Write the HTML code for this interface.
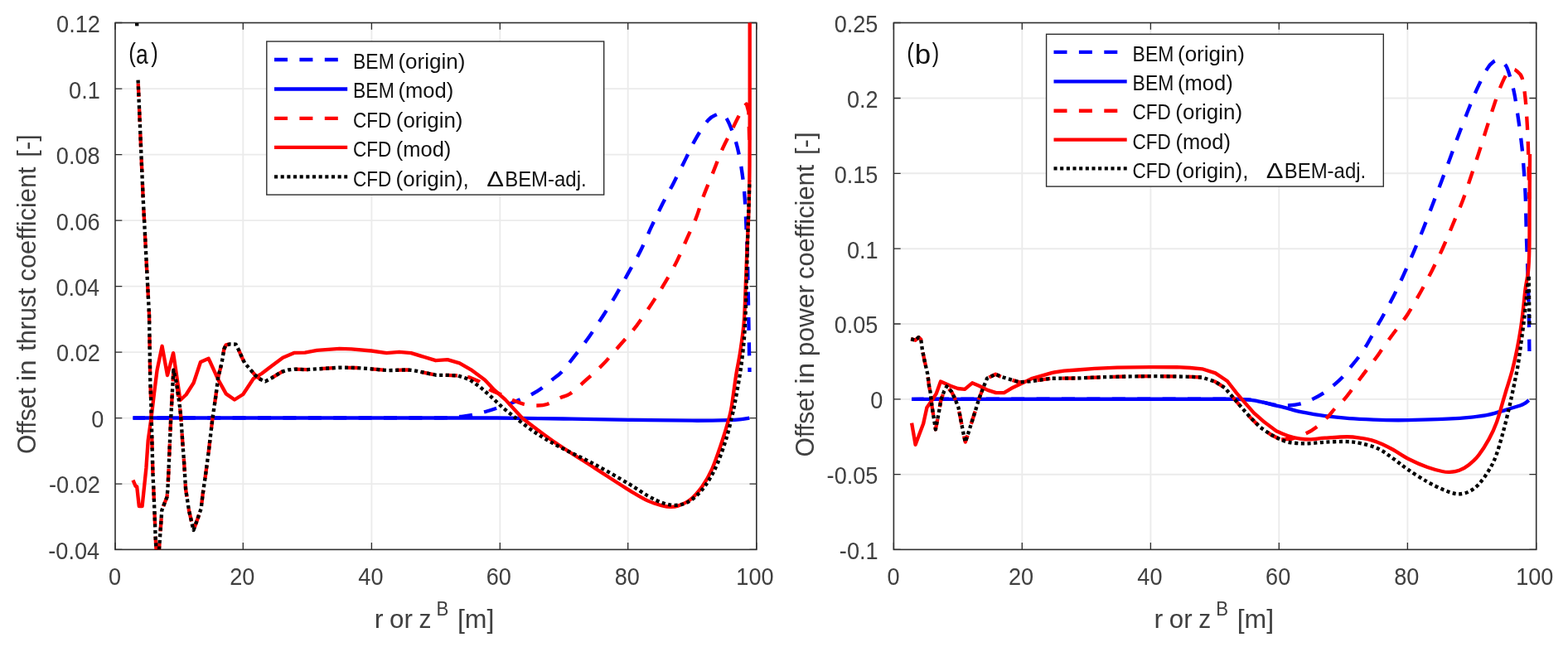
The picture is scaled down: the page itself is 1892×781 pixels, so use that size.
<!DOCTYPE html>
<html lang="en">
<head>
<meta charset="utf-8">
<title>Offset in thrust and power coefficient</title>
<style>
html,body{margin:0;padding:0;background:#fff;}
body{width:1892px;height:781px;overflow:hidden;}
svg{display:block;}
text{white-space:pre;}
</style>
</head>
<body>
<svg width="1892" height="781" viewBox="0 0 1892 781" font-family="'Liberation Sans', 'DejaVu Sans', sans-serif">
<rect width="1892" height="781" fill="#fff"/>
<defs>
<clipPath id="ca"><rect x="139" y="27.5" width="773.8" height="635.9"/></clipPath>
<clipPath id="cb"><rect x="1078.4" y="27.5" width="775.3" height="635.9"/></clipPath>
</defs>
<path d="M293.3 27.5V663.4M448.4 27.5V663.4M603.3 27.5V663.4M757.7 27.5V663.4M139 107.1H912.8M139 186.6H912.8M139 266.1H912.8M139 345.6H912.8M139 425.1H912.8M139 504.6H912.8M139 584.1H912.8" stroke="#ebebeb" stroke-width="1.9" fill="none"/>
<path d="M1233.3 27.5V663.4M1388.4 27.5V663.4M1543.3 27.5V663.4M1698.4 27.5V663.4M1078.4 118.5H1853.7M1078.4 209.3H1853.7M1078.4 300.2H1853.7M1078.4 391H1853.7M1078.4 481.9H1853.7M1078.4 572.7H1853.7" stroke="#ebebeb" stroke-width="1.9" fill="none"/>
<path d="M139 663.4v-8.3M139 27.5v8.3M293.3 663.4v-8.3M293.3 27.5v8.3M448.4 663.4v-8.3M448.4 27.5v8.3M603.3 663.4v-8.3M603.3 27.5v8.3M757.7 663.4v-8.3M757.7 27.5v8.3M912.8 663.4v-8.3M912.8 27.5v8.3M139 27.5h8.3M912.8 27.5h-8.3M139 107.1h8.3M912.8 107.1h-8.3M139 186.6h8.3M912.8 186.6h-8.3M139 266.1h8.3M912.8 266.1h-8.3M139 345.6h8.3M912.8 345.6h-8.3M139 425.1h8.3M912.8 425.1h-8.3M139 504.6h8.3M912.8 504.6h-8.3M139 584.1h8.3M912.8 584.1h-8.3M139 663.4h8.3M912.8 663.4h-8.3" stroke="#2e2e2e" stroke-width="1.3" fill="none"/>
<rect x="139" y="27.5" width="773.8" height="635.9" stroke="#2e2e2e" stroke-width="1.6" fill="none"/>
<path d="M1078.4 663.4v-8.3M1078.4 27.5v8.3M1233.3 663.4v-8.3M1233.3 27.5v8.3M1388.4 663.4v-8.3M1388.4 27.5v8.3M1543.3 663.4v-8.3M1543.3 27.5v8.3M1698.4 663.4v-8.3M1698.4 27.5v8.3M1853.7 663.4v-8.3M1853.7 27.5v8.3M1078.4 27.5h8.3M1853.7 27.5h-8.3M1078.4 118.5h8.3M1853.7 118.5h-8.3M1078.4 209.3h8.3M1853.7 209.3h-8.3M1078.4 300.2h8.3M1853.7 300.2h-8.3M1078.4 391h8.3M1853.7 391h-8.3M1078.4 481.9h8.3M1853.7 481.9h-8.3M1078.4 572.7h8.3M1853.7 572.7h-8.3M1078.4 663.4h8.3M1853.7 663.4h-8.3" stroke="#2e2e2e" stroke-width="1.3" fill="none"/>
<rect x="1078.4" y="27.5" width="775.3" height="635.9" stroke="#2e2e2e" stroke-width="1.6" fill="none"/>
<g clip-path="url(#ca)" fill="none" stroke-width="4.35" stroke-linejoin="round">
<path d="M160.5 504.5 L520 504.5 C523.3 504.5 534.2 504.6 540 504.3 C545.8 504.1 550 503.6 555 503 C560 502.4 564.9 502 570 501 C575.1 500 581 498.3 585.7 497 C590.5 495.7 593.5 494.7 598.5 493 C603.5 491.3 611.2 488.8 616 487 C620.8 485.2 622.7 484.3 627 482.5 C631.3 480.7 637.1 478.4 641.7 476 C646.3 473.6 650.4 471 654.5 468 C658.6 465 662.6 461.4 666.5 458.2 C670.4 455 673.6 453.5 678 448.8 C682.4 444.1 687.5 437.2 693 430.2 C698.5 423.2 704.8 415 710.7 406.7 C716.6 398.4 722.9 388.5 728.3 380.2 C733.7 371.9 738.1 365 743 356.6 C747.9 348.2 752.9 338.9 757.8 330.1 C762.7 321.3 767.8 312.9 772.5 303.6 C777.2 294.3 781.5 283.4 785.8 274.2 C790.1 265 793.8 257.3 798.3 248.3 C802.8 239.3 808.1 230 813 220.4 C817.9 210.8 823.4 199.8 827.8 190.9 C832.2 182.1 835.2 174.9 839.6 167.3 C844 159.7 850.1 150 854.3 145.2 C858.5 140.4 861.9 139.7 864.6 138.4 C867.3 137.1 868.3 136.2 870.5 137.3 C872.7 138.4 875.2 140.2 877.9 145.2 C880.6 150.2 884.2 159.7 886.7 167.3 C889.2 174.9 890.9 182.1 892.6 190.9 C894.3 199.8 896 212.1 897 220.4 C898 228.8 898.2 232.6 898.8 241 C899.3 249.4 899.8 258.1 900.3 271 C900.8 283.9 901.6 297.6 902.1 318.3 C902.6 339 903.1 373.2 903.5 395 C903.9 416.8 904.3 440 904.5 449" stroke="#00f" stroke-dasharray="16 14.4" stroke-dashoffset="1.5"/>
<path d="M160.5 504.5 L600 504.5 C613.3 504.7 653.5 505.1 680 505.5 C706.5 505.9 733.1 506.4 759 506.8 C784.9 507.2 815.4 507.6 835.5 507.7 C855.6 507.8 869.9 507.4 879.7 507.1 C889.5 506.9 890.3 506.6 894.4 506.2 C898.5 505.8 902.6 504.9 904.3 504.6" stroke="#00f"/>
<path d="M164.9 20 L165.2 29 L166.5 95 L172.7 240 L180 380 L180.6 416 L181.2 457 L181.9 477 L182.2 483 L182.8 508 L183.5 536.6 L184.4 570 L185.3 590.6 L186.4 616 L187.6 648 L188.3 660 L190.2 690 L192 663 L194 635 L195.3 616 L197.9 609 L201.5 600 L202.4 590.6 L203.6 565 L204.9 534 L206.2 504.6 L208.1 470 L209.4 446.6 L213.2 463 L215.2 478.6 L217.1 491.8 L218.4 504.6 L220.3 534 L222.2 559.6 L224.1 590.6 L228 616.2 L233.5 640 L238.9 625 L242.7 613.7 L244.6 597 L247.8 575 L251.7 545.6 L256.2 507 L260.6 476.4 L263.2 455.6 L267.7 437.6 L270.3 421.5 L272.6 416.4 L278 415.3 L284.6 415.6 L287.7 421.8 L292.2 432 L295.4 438.5 L300 443.6 L308 453 L314.4 458 L320.2 460.4 L327.2 456.6 L340 448.8 L347.7 446.5 L355.4 445.6 L370 446.2 L384 445.3 L409.6 443.7 L430.4 444 L448 445.3 L468.8 447.2 L491.3 446.4 L499.3 447.2 L526.5 452.8 L537.7 452.8 L552 453.3" stroke="#f00" stroke-dasharray="16 14.4" stroke-dashoffset="10.3"/>
<path d="M552 453.3 L566.5 455.4 L577.7 460.2 L592.1 471 C594.2 471.9 600.4 474.3 604.9 476.3 C609.4 478.3 614.8 481.3 619.3 483.2 C623.8 485.1 627.3 486.8 632.1 487.8 C636.9 488.9 643.4 489.5 648 489.5 C652.6 489.5 655.2 489.6 660 488 C664.8 486.4 671.8 482.2 676.5 480 C681.2 477.8 683.1 478.6 688.3 475 C693.5 471.4 701 464.2 707.7 458.2 C714.4 452.2 721.4 446.1 728.3 439 C735.2 431.9 742.4 423.1 749 415.5 C755.6 407.9 761.6 401.8 768 393.4 C774.4 385 781.5 374 787.2 365.4 C792.9 356.8 797.1 350.2 802 341.9 C806.9 333.6 812.3 324.2 816.7 315.4 C821.1 306.6 824.6 297.7 828.5 288.9 C832.4 280.1 836.9 270.9 840.2 262.4 C843.5 253.9 845.1 247 848.4 238 C851.7 229 856.3 218.4 860.2 208.6 C864.1 198.8 868.3 187.4 872 179.1 C875.7 170.8 879.1 164.9 882.3 158.5 C885.5 152.1 888.6 145.6 891.1 140.8 C893.6 136.1 895.4 132.6 897 130 C898.6 127.5 900.2 126.2 900.8 125.5 L903.3 135 L904.5 180" stroke="#f00" stroke-dasharray="16 14.4" stroke-dashoffset="-12.3"/>
<path d="M160.5 579.7 L163.6 586.8 L165.2 587.4 L167.8 611 L171.6 611 L176.4 565 L178.7 531.5 L182.5 504.6 L186 475 L189.6 446.6 L195.6 417.8 L202 453 L209.1 426.1 L217.5 483 L224.5 476.5 L233.7 462 L242 437 L251.7 432.8 L263.2 458.1 L272.8 475.4 L283 482.5 L293.3 476 L306 456.8 L315.7 451 L328.5 441.2 L341.3 431.7 L355.4 425.8 L368 425.6 L382.4 422.9 L409.6 420.8 L424 421.3 L448 423.5 L466.4 426.1 L481.7 424.8 L496 426.1 L525.7 435.2 L540 434.1 L554.5 438.4 L569.7 447.2 L584.9 458.4 L595.3 469.6 L609.7 482.4 L630.5 505 C636.7 509.6 653.2 522.7 667.7 532.7 C682.2 542.7 702.6 555.3 717.8 565.1 C733 574.9 748.2 585 759 591.6 C769.8 598.2 775.6 601.7 782.5 604.9 C789.4 608.1 795.8 609.5 800.2 610.7 C804.6 611.9 806.1 611.9 809 611.9 C811.9 611.9 813.9 612.1 817.8 610.7 C821.7 609.3 827.7 607.3 832.6 603.4 C837.5 599.5 842.9 593.3 847.3 587.2 C851.7 581.1 855.1 575.4 859 566.6 C862.9 557.8 867.3 544.5 870.8 534.2 C874.2 523.9 877.7 512.2 879.7 504.8 C881.7 497.4 881.5 498.5 882.9 490 C884.3 481.5 886.3 464.9 888 454 C889.7 443.1 891.6 435.3 893.2 424.6 C894.8 413.9 896.5 402.8 897.6 390 C898.7 377.2 899 362.8 899.6 347.8 C900.2 332.8 900.8 316.3 901.5 300 C902.2 283.7 903.1 266.7 903.6 250 C904.1 233.3 904.3 225 904.5 200 C904.7 175 904.7 130 904.7 100 C904.7 70 904.7 33.3 904.7 20" stroke="#f00"/>
<path d="M164.9 20 L165.2 29 L166.5 95 L172.7 240 L180 380 L180.6 416 L181.2 457 L181.9 477 L182.2 483 L182.8 508 L183.5 536.6 L184.4 570 L185.3 590.6 L186.4 616 L187.6 648 L188.3 660 L190.2 690 L192 663 L194 635 L195.3 616 L197.9 609 L201.5 600 L202.4 590.6 L203.6 565 L204.9 534 L206.2 504.6 L208.1 470 L209.4 446.6 L213.2 463 L215.2 478.6 L217.1 491.8 L218.4 504.6 L220.3 534 L222.2 559.6 L224.1 590.6 L228 616.2 L233.5 640 L238.9 625 L242.7 613.7 L244.6 597 L247.8 575 L251.7 545.6 L256.2 507 L260.6 476.4 L263.2 455.6 L267.7 437.6 L270.3 421.5 L272.6 416.4 L278 415.3 L284.6 415.6 L287.7 421.8 L292.2 432 L295.4 438.5 L300 443.6 L308 453 L314.4 458 L320.2 460.4 L327.2 456.6 L340 448.8 L347.7 446.5 L355.4 445.6 L370 446.2 L384 445.3 L409.6 443.7 L430.4 444 L448 445.3 L468.8 447.2 L491.3 446.4 L499.3 447.2 L526.5 452.8 L537.7 452.8 L552 453.3 L566.5 458.1 L579.3 467.2 L592.1 478.4 L606.5 492 L620.6 503.3 C624.5 506.2 635.4 515.1 644.2 521 C653 526.9 661.3 532 673.6 538.6 C685.9 545.2 703.6 553.1 717.8 560.7 C732 568.3 748.2 577.8 759 584.2 C769.8 590.6 775.6 595.2 782.5 599 C789.4 602.8 794.8 605.4 800.2 607.2 C805.6 609 810 610 814.9 609.9 C819.8 609.8 824.7 608.9 829.6 606.3 C834.5 603.7 839.9 599.1 844.3 594.5 C848.7 589.9 852.4 584.5 856.1 578.4 C859.8 572.3 863 566.1 866.4 557.8 C869.8 549.4 873.8 538.1 876.7 528.3 C879.7 518.5 882.4 505.9 884.1 498.9 C885.8 491.8 885.4 493.5 886.8 486 C888.2 478.5 890.9 464.2 892.5 454 C894.1 443.8 895.3 434.6 896.4 424.6 C897.5 414.6 898.2 406.6 898.9 393.8 C899.6 381 900.1 365.2 900.6 347.8 C901.1 330.4 901.6 305.7 902.1 289.6 C902.6 273.5 903 262.9 903.4 251 C903.8 239.2 904.2 223.9 904.4 218.5" stroke="#000" stroke-dasharray="4.1 3.56" stroke-dashoffset="0"/>
</g>
<g clip-path="url(#cb)" fill="none" stroke-width="4.35" stroke-linejoin="round">
<path d="M1100.1 481.8 L1492 481.7 C1494.7 481.9 1502.7 482 1508 482.7 C1513.3 483.4 1518.7 484.6 1524 485.6 C1529.3 486.7 1534.9 488.4 1540 489 C1545.1 489.6 1549.8 489.8 1554.7 489.5 C1559.6 489.2 1564.5 488.7 1569.4 487.4 C1574.3 486.1 1579.5 483.8 1584.2 481.6 C1588.9 479.4 1593 477.1 1597.4 474.2 C1601.8 471.2 1606.7 467.3 1610.6 463.9 C1614.5 460.5 1617.9 457.3 1621 454 C1624.1 450.7 1625.8 448 1629 444 C1632.2 440 1636.8 434.5 1640.1 430 C1643.4 425.5 1646.5 420.7 1648.9 416.8 C1651.4 412.9 1652.3 410.9 1654.8 406.5 C1657.2 402.1 1661.6 394 1663.6 390.3 C1665.6 386.6 1664.2 389.7 1667 384.5 C1669.8 379.3 1676.2 367.9 1680.7 359.1 C1685.2 350.3 1689.5 340.8 1693.7 331.6 C1697.9 322.4 1702 313 1705.9 303.8 C1709.8 294.6 1713.5 285.8 1717.3 276.4 C1721 267 1724.7 257.1 1728.4 247.5 C1732.1 237.9 1735.7 228.4 1739.3 218.9 C1742.9 209.4 1746.6 199.4 1749.9 190.5 C1753.2 181.6 1755.7 174.3 1759 165.4 C1762.3 156.5 1766.2 146.7 1769.9 137.3 C1773.6 127.9 1777.4 118.1 1781.4 109.1 C1785.5 100.1 1790.8 89.2 1794.2 83.5 C1797.6 77.8 1799.3 76.4 1801.9 74.6 C1804.5 72.8 1807 71.9 1809.6 72.8 C1812.2 73.7 1815.2 76.2 1817.3 79.7 C1819.4 83.2 1820.7 88 1822.4 93.7 C1824.1 99.5 1825.8 105.2 1827.5 114.2 C1829.2 123.2 1831.1 136.8 1832.6 147.5 C1834.1 158.2 1835.4 168 1836.5 178.2 C1837.6 188.4 1838.3 198.6 1839 208.9 C1839.7 219.2 1840.3 226.5 1840.8 240 C1841.3 253.5 1841.5 275 1842 290 C1842.5 305 1843.1 316.7 1843.5 330 C1843.9 343.3 1844.3 354.3 1844.6 370 C1844.9 385.7 1845.3 415 1845.4 424" stroke="#00f" stroke-dasharray="16 14.4" stroke-dashoffset="1.5"/>
<path d="M1100.1 481.8 L1492 481.7 C1494.7 481.9 1502.7 482 1508 482.7 C1513.3 483.4 1518.7 484.5 1524 485.6 C1529.3 486.8 1534.7 488.3 1540 489.6 C1545.3 490.9 1551.1 492.3 1556 493.6 C1560.9 494.9 1562.2 495.8 1569.4 497.2 C1576.6 498.6 1589.1 500.9 1598.9 502.2 C1608.7 503.5 1618.5 504.4 1628.3 505.1 C1638.1 505.8 1648 506.2 1657.8 506.6 C1667.6 507 1677.4 507.2 1687.2 507.2 C1697 507.2 1706.8 506.9 1716.6 506.6 C1726.4 506.4 1736.3 506.2 1746.1 505.7 C1755.9 505.2 1767.2 504.4 1775.5 503.6 C1783.8 502.8 1789.2 502.2 1796.1 500.7 C1803 499.2 1810.3 496.7 1816.7 494.8 C1823.1 492.9 1830.5 490.9 1834.4 489.5 C1838.3 488.1 1838.6 487.7 1840.3 486.6 C1842 485.5 1844 483.6 1844.7 483" stroke="#00f"/>
<path d="M1099.2 409.2 L1104.6 410.7 L1108.4 407.2 L1111.2 409.7 L1112.9 422.3 L1115.5 435.1 L1119.3 451.7 L1121.2 467.1 L1122.5 472.8 L1124.4 489.5 L1126.4 502.3 L1128.9 518.3 L1131.5 504.8 L1133.4 494.6 L1135.3 483.1 L1139.2 472.2 L1142.4 466.4 L1148.1 472.8 L1152 480.5 L1156.5 492 L1159.7 508.7 L1162.9 525.3 L1164.8 533.6 L1168 524 L1171.2 513.8 L1176.9 495.9 L1181.4 481.1 L1186.5 467.7 L1191 456.8 L1201.3 451.7 L1208.3 454.9 L1230.1 461.3 L1242.9 460.4 L1268.5 456.8 L1300 456.5 L1332 455.2 L1364 454.4 L1388 454.1 L1420 454.4 L1437.7 454.9 L1450.5 455.5 L1466.5 460.8 L1477.7 468 L1487.3 479.2 L1496.9 490.4 L1508 503.2 L1520.9 516 L1533.7 524.8 L1544.9 530.5" stroke="#f00" stroke-dasharray="16 14.4" stroke-dashoffset="0"/>
<path d="M1544.9 530.5 C1546.1 530.5 1549.5 530.4 1552 530.2 C1554.5 530 1555.9 530.5 1560 529.3 C1564.1 528.1 1572 525.1 1576.8 522.8 C1581.6 520.5 1584.4 518.6 1588.6 515.4 C1592.8 512.2 1598.1 507.3 1601.8 503.6 C1605.5 499.9 1607.2 497 1610.6 493.3 C1614 489.6 1618.7 485.8 1622.4 481.6 C1626.1 477.4 1629.5 472.5 1632.7 468.3 C1635.9 464.1 1638.6 460.4 1641.6 456.5 C1644.5 452.6 1647.2 449 1650.4 444.8 C1653.6 440.6 1657.8 435.4 1660.7 431.5 C1663.6 427.6 1665 425.4 1668 421.2 C1671 417 1675.2 410.9 1678.4 406.5 C1681.6 402.1 1683.8 399.2 1687.2 394.7 C1690.6 390.1 1694.1 386.2 1698.6 379.2 C1703.1 372.2 1709.1 361.5 1714 352.7 C1718.9 343.9 1723.5 335.3 1728 326.4 C1732.5 317.4 1736.9 308.2 1741.1 299 C1745.3 289.8 1749.1 280.4 1753 271 C1756.9 261.6 1761.1 252.2 1764.7 242.7 C1768.3 233.2 1771.3 223.8 1774.5 214.2 C1777.7 204.6 1781 194.8 1784.1 185.4 C1787.2 176 1789.9 167 1792.9 157.7 C1795.9 148.4 1798.9 138.5 1801.9 129.6 C1804.9 120.6 1808.1 110.8 1810.9 104 C1813.7 97.2 1816.2 91.9 1818.5 88.6 C1820.8 85.3 1823 84.5 1824.9 84 C1826.8 83.5 1828.1 84 1830 85.6 C1831.9 87.2 1834.8 88.5 1836.5 93.7 C1838.2 98.9 1839.2 107 1840.3 116.8 C1841.4 126.6 1842.3 141.5 1842.9 152.6 C1843.5 163.7 1843.7 168.7 1844.1 183.3 C1844.5 197.9 1845.1 230.6 1845.3 240" stroke="#f00" stroke-dasharray="16 14.4" stroke-dashoffset="-1.5"/>
<path d="M1100.1 510.6 L1104.6 536.8 L1114.2 511.2 L1118.4 492 L1123.8 484.3 L1129.6 475.4 L1135 460.6 L1146.8 465.8 L1155.8 469 L1164.1 469.9 L1173.1 462.3 L1181.4 465.8 L1191.7 470.9 L1201.9 474.1 L1211.5 474.1 L1222.4 467.7 L1233.3 462.6 L1245.5 456.8 L1269.8 449.8 L1283.9 447.6 L1300 446.5 L1320.8 444.8 L1348 443.7 L1388 443.2 L1420 443.2 L1436 444 L1450.5 445.3 L1466.5 450.4 L1480.9 460 L1492 474.4 L1501.7 485.6 L1512.9 498.4 L1525.7 509.6 L1540 520.3 C1542.4 521.3 1549.7 524.8 1554.5 526.4 C1559.3 528 1564.5 528.9 1569 529.6 C1573.5 530.3 1576.7 530.5 1581.7 530.4 C1586.7 530.2 1591.6 529.2 1598.9 528.7 C1606.2 528.2 1618.1 527.2 1625.4 527.2 C1632.8 527.2 1638.1 528.2 1643 528.9 C1647.9 529.6 1650.8 530.1 1655 531.3 C1659.2 532.5 1663.6 534.2 1668 536.2 C1672.4 538.2 1676.1 540.1 1681.3 543 C1686.5 545.9 1692.1 550.2 1699 553.7 C1705.9 557.2 1715.6 561.5 1722.5 564 C1729.4 566.5 1735.8 568 1740.2 569 C1744.6 570 1745.6 570.1 1749 569.9 C1752.4 569.7 1756.9 569.3 1760.8 567.8 C1764.7 566.3 1768.7 564.1 1772.6 561 C1776.5 557.9 1780.3 554.4 1784.3 549.3 C1788.3 544.1 1793 536.7 1796.6 530.1 C1800.2 523.5 1803 517.8 1806 509.5 C1809 501.2 1812.8 486.7 1814.8 480.1 C1816.8 473.5 1816.1 475.6 1817.8 470 C1819.5 464.4 1822.7 454.9 1824.8 446.8 C1826.9 438.7 1828.9 429.7 1830.6 421.2 C1832.3 412.7 1833.8 404.1 1835.1 395.6 C1836.4 387.1 1837.3 378.1 1838.3 370 C1839.2 361.9 1839.8 353.9 1840.8 346.8 C1841.8 339.7 1843.2 335.1 1844 327.6 C1844.8 320.1 1845 314.9 1845.3 302 C1845.6 289.1 1845.5 269.3 1845.6 250 C1845.7 230.7 1845.9 196.7 1846 186" stroke="#f00"/>
<path d="M1099.2 409.2 L1104.6 410.7 L1108.4 407.2 L1111.2 409.7 L1112.9 422.3 L1115.5 435.1 L1119.3 451.7 L1121.2 467.1 L1122.5 472.8 L1124.4 489.5 L1126.4 502.3 L1128.9 518.3 L1131.5 504.8 L1133.4 494.6 L1135.3 483.1 L1139.2 472.2 L1142.4 466.4 L1148.1 472.8 L1152 480.5 L1156.5 492 L1159.7 508.7 L1162.9 525.3 L1164.8 533.6 L1168 524 L1171.2 513.8 L1176.9 495.9 L1181.4 481.1 L1186.5 467.7 L1191 456.8 L1201.3 451.7 L1208.3 454.9 L1230.1 461.3 L1242.9 460.4 L1268.5 456.8 L1300 456.5 L1332 455.2 L1364 454.4 L1388 454.1 L1420 454.4 L1437.7 454.9 L1450.5 455.5 L1466.5 460.8 L1477.7 468 L1487.3 479.2 L1496.9 490.4 L1508 503.2 L1520.9 516 L1533.7 524.8 L1544.9 530.5 C1546.8 531.1 1550.9 533.2 1556 534 C1561.1 534.8 1568.1 535.4 1575.3 535.4 C1582.5 535.4 1590.6 534.1 1598.9 533.7 C1607.2 533.3 1618.1 532.8 1625.4 533.1 C1632.8 533.4 1636.6 533.9 1643 535.4 C1649.4 536.9 1657.2 538.8 1663.6 541.9 C1670 545 1675.4 549.5 1681.3 553.7 C1687.2 557.9 1692.1 562.2 1699 566.9 C1705.9 571.6 1715.6 577.8 1722.5 581.7 C1729.4 585.6 1735.3 588.3 1740.2 590.5 C1745.1 592.7 1748.6 593.9 1752 594.9 C1755.4 595.9 1757.4 596.6 1760.8 596.4 C1764.2 596.1 1768.7 595.4 1772.6 593.4 C1776.5 591.4 1780.4 588.8 1784.3 584.6 C1788.2 580.4 1792.7 574 1796.1 568.4 C1799.5 562.8 1802 558.6 1804.9 550.7 C1807.9 542.9 1811.1 531.1 1813.8 521.3 C1816.5 511.5 1819 500.7 1821.1 491.9 C1823.1 483.1 1824.7 475.1 1826.1 468.6 C1827.5 462.2 1828.3 458.1 1829.3 453.2 C1830.3 448.3 1831.1 444.4 1831.9 439.1 C1832.8 433.8 1833.6 427.4 1834.4 421.2 C1835.2 415 1836.2 407.8 1837 402 C1837.8 396.2 1838.3 391.9 1838.9 386.6 C1839.5 381.3 1840.2 375.8 1840.8 370 C1841.4 364.2 1841.9 358.2 1842.6 352 C1843.2 345.8 1844.3 335.8 1844.7 332.5 L1845.5 393" stroke="#000" stroke-dasharray="4.1 3.56" stroke-dashoffset="0"/>
</g>
<rect x="146" y="31.5" width="60" height="62.5" fill="#fff"/>
<rect x="321.8" y="50" width="406.9" height="185.1" fill="#fff" stroke="#2e2e2e" stroke-width="1.4"/>
<path d="M331 72H419.2" stroke="#00f" stroke-width="4.35" stroke-dasharray="16 14.4" fill="none"/>
<path d="M331 107.5H419.2" stroke="#00f" stroke-width="4.35" fill="none"/>
<path d="M331 142.9H419.2" stroke="#f00" stroke-width="4.35" stroke-dasharray="16 14.4" fill="none"/>
<path d="M331 177.9H419.2" stroke="#f00" stroke-width="4.35" fill="none"/>
<path d="M331 213.3H419.2" stroke="#000" stroke-width="4.35" stroke-dasharray="4.1 3.56" fill="none"/>
<rect x="1262.6" y="41.3" width="406.7" height="183.8" fill="#fff" stroke="#2e2e2e" stroke-width="1.4"/>
<path d="M1271.5 62.8H1359.7" stroke="#00f" stroke-width="4.35" stroke-dasharray="16 14.4" fill="none"/>
<path d="M1271.5 98.3H1359.7" stroke="#00f" stroke-width="4.35" fill="none"/>
<path d="M1271.5 133.7H1359.7" stroke="#f00" stroke-width="4.35" stroke-dasharray="16 14.4" fill="none"/>
<path d="M1271.5 168.6H1359.7" stroke="#f00" stroke-width="4.35" fill="none"/>
<path d="M1271.5 203.4H1359.7" stroke="#000" stroke-width="4.35" stroke-dasharray="4.1 3.56" fill="none"/>
<text transform="translate(68.10 39.05) scale(0.9519 1.0100)" font-size="28.5" fill="#404040">0.12</text>
<text transform="translate(83.09 118.54) scale(0.9519 1.0100)" font-size="28.5" fill="#404040">0.1</text>
<text transform="translate(67.86 198.02) scale(0.9519 1.0100)" font-size="28.5" fill="#404040">0.08</text>
<text transform="translate(67.86 277.51) scale(0.9519 1.0100)" font-size="28.5" fill="#404040">0.06</text>
<text transform="translate(67.38 357.00) scale(0.9519 1.0100)" font-size="28.5" fill="#404040">0.04</text>
<text transform="translate(68.10 436.48) scale(0.9519 1.0100)" font-size="28.5" fill="#404040">0.02</text>
<text transform="translate(110.35 515.97) scale(0.9519 1.0100)" font-size="28.5" fill="#404040">0</text>
<text transform="translate(59.06 595.46) scale(0.9519 1.0100)" font-size="28.5" fill="#404040">-0.02</text>
<text transform="translate(58.34 674.95) scale(0.9519 1.0100)" font-size="28.5" fill="#404040">-0.04</text>
<text transform="translate(1006.66 39.05) scale(0.9519 1.0100)" font-size="28.5" fill="#404040">0.25</text>
<text transform="translate(1021.89 129.89) scale(0.9519 1.0100)" font-size="28.5" fill="#404040">0.2</text>
<text transform="translate(1006.66 220.73) scale(0.9519 1.0100)" font-size="28.5" fill="#404040">0.15</text>
<text transform="translate(1021.89 311.58) scale(0.9519 1.0100)" font-size="28.5" fill="#404040">0.1</text>
<text transform="translate(1006.66 402.42) scale(0.9519 1.0100)" font-size="28.5" fill="#404040">0.05</text>
<text transform="translate(1050.15 493.26) scale(0.9519 1.0100)" font-size="28.5" fill="#404040">0</text>
<text transform="translate(997.62 584.10) scale(0.9519 1.0100)" font-size="28.5" fill="#404040">-0.05</text>
<text transform="translate(1012.85 674.95) scale(0.9519 1.0100)" font-size="28.5" fill="#404040">-0.1</text>
<text transform="translate(131.00 705.95) scale(0.9519 1.0100)" font-size="28.5" fill="#404040">0</text>
<text transform="translate(277.23 705.95) scale(0.9519 1.0100)" font-size="28.5" fill="#404040">20</text>
<text transform="translate(432.35 705.95) scale(0.9519 1.0100)" font-size="28.5" fill="#404040">40</text>
<text transform="translate(586.75 705.95) scale(0.9519 1.0100)" font-size="28.5" fill="#404040">60</text>
<text transform="translate(741.63 705.95) scale(0.9519 1.0100)" font-size="28.5" fill="#404040">80</text>
<text transform="translate(888.30 705.95) scale(0.9519 1.0100)" font-size="28.5" fill="#404040">100</text>
<text transform="translate(1070.40 705.95) scale(0.9519 1.0100)" font-size="28.5" fill="#404040">0</text>
<text transform="translate(1216.93 705.95) scale(0.9519 1.0100)" font-size="28.5" fill="#404040">20</text>
<text transform="translate(1372.35 705.95) scale(0.9519 1.0100)" font-size="28.5" fill="#404040">40</text>
<text transform="translate(1527.05 705.95) scale(0.9519 1.0100)" font-size="28.5" fill="#404040">60</text>
<text transform="translate(1682.23 705.95) scale(0.9519 1.0100)" font-size="28.5" fill="#404040">80</text>
<text transform="translate(1829.20 705.95) scale(0.9519 1.0100)" font-size="28.5" fill="#404040">100</text>
<text font-size="31" fill="#404040"><tspan x="451.71" y="758.10" textLength="10.79" lengthAdjust="spacingAndGlyphs">r</tspan> <tspan x="470.14" y="758.10" textLength="27.85" lengthAdjust="spacingAndGlyphs">or</tspan> <tspan x="505.49" y="758.10" textLength="14.95" lengthAdjust="spacingAndGlyphs">z</tspan> <tspan x="526.45" y="743.30" textLength="14.82" lengthAdjust="spacingAndGlyphs" font-size="24">B</tspan> <tspan x="551.97" y="758.10" textLength="44.52" lengthAdjust="spacingAndGlyphs">[m]</tspan></text>
<text font-size="31" fill="#404040"><tspan x="1392.41" y="758.10" textLength="10.79" lengthAdjust="spacingAndGlyphs">r</tspan> <tspan x="1410.84" y="758.10" textLength="27.85" lengthAdjust="spacingAndGlyphs">or</tspan> <tspan x="1446.19" y="758.10" textLength="14.95" lengthAdjust="spacingAndGlyphs">z</tspan> <tspan x="1467.15" y="743.30" textLength="14.82" lengthAdjust="spacingAndGlyphs" font-size="24">B</tspan> <tspan x="1492.67" y="758.10" textLength="44.52" lengthAdjust="spacingAndGlyphs">[m]</tspan></text>
<text transform="translate(42.60 0) rotate(-90)" font-size="31" fill="#404040"><tspan x="-547.96" y="0.00" textLength="79.79" lengthAdjust="spacingAndGlyphs">Offset</tspan> <tspan x="-460.36" y="0.00" textLength="26.07" lengthAdjust="spacingAndGlyphs">in</tspan> <tspan x="-423.69" y="0.00" textLength="76.27" lengthAdjust="spacingAndGlyphs">thrust</tspan> <tspan x="-339.44" y="0.00" textLength="138.11" lengthAdjust="spacingAndGlyphs">coefficient</tspan> <tspan x="-189.63" y="0.00" textLength="27.32" lengthAdjust="spacingAndGlyphs">[-]</tspan></text>
<text transform="translate(981.80 0) rotate(-90)" font-size="31" fill="#404040"><tspan x="-551.46" y="0.00" textLength="79.79" lengthAdjust="spacingAndGlyphs">Offset</tspan> <tspan x="-463.87" y="0.00" textLength="26.19" lengthAdjust="spacingAndGlyphs">in</tspan> <tspan x="-430.25" y="0.00" textLength="86.39" lengthAdjust="spacingAndGlyphs">power</tspan> <tspan x="-336.94" y="0.00" textLength="138.21" lengthAdjust="spacingAndGlyphs">coefficient</tspan> <tspan x="-187.05" y="0.00" textLength="27.56" lengthAdjust="spacingAndGlyphs">[-]</tspan></text>
<text font-size="30.5" fill="#111"><tspan x="155.20" y="74.30" textLength="8.66" lengthAdjust="spacingAndGlyphs">(</tspan><tspan x="163.98" y="76.90" textLength="14.72" lengthAdjust="spacingAndGlyphs" font-size="32.6">a</tspan><tspan x="182.29" y="74.30" textLength="8.52" lengthAdjust="spacingAndGlyphs">)</tspan></text>
<text font-size="30.5" fill="#111"><tspan x="1094.30" y="74.30" textLength="8.66" lengthAdjust="spacingAndGlyphs">(</tspan><tspan x="1103.86" y="77.00" textLength="19.43" lengthAdjust="spacingAndGlyphs" font-size="33.6">b</tspan><tspan x="1124.79" y="74.30" textLength="8.52" lengthAdjust="spacingAndGlyphs">)</tspan></text>
<text font-size="25" fill="#111"><tspan x="426.07" y="82.70" textLength="49.71" lengthAdjust="spacingAndGlyphs">BEM</tspan> <tspan x="480.44" y="82.70" textLength="80.97" lengthAdjust="spacingAndGlyphs">(origin)</tspan></text>
<text font-size="25" fill="#111"><tspan x="426.07" y="118.20" textLength="49.71" lengthAdjust="spacingAndGlyphs">BEM</tspan> <tspan x="480.47" y="118.20" textLength="66.71" lengthAdjust="spacingAndGlyphs">(mod)</tspan></text>
<text font-size="25" fill="#111"><tspan x="426.08" y="153.50" textLength="46.25" lengthAdjust="spacingAndGlyphs">CFD</tspan> <tspan x="477.84" y="153.50" textLength="80.66" lengthAdjust="spacingAndGlyphs">(origin)</tspan></text>
<text font-size="25" fill="#111"><tspan x="426.08" y="188.80" textLength="46.25" lengthAdjust="spacingAndGlyphs">CFD</tspan> <tspan x="477.87" y="188.80" textLength="66.50" lengthAdjust="spacingAndGlyphs">(mod)</tspan></text>
<text font-size="25" fill="#111"><tspan x="426.08" y="224.60" textLength="46.25" lengthAdjust="spacingAndGlyphs">CFD</tspan> <tspan x="477.64" y="224.60" textLength="88.20" lengthAdjust="spacingAndGlyphs">(origin),</tspan>   <tspan x="587.17" y="224.60" textLength="20.81" lengthAdjust="spacingAndGlyphs">Δ</tspan><tspan x="609.19" y="224.60" textLength="98.43" lengthAdjust="spacingAndGlyphs">BEM-adj.</tspan></text>
<text font-size="25" fill="#111"><tspan x="1366.62" y="73.55" textLength="49.71" lengthAdjust="spacingAndGlyphs">BEM</tspan> <tspan x="1420.99" y="73.55" textLength="80.97" lengthAdjust="spacingAndGlyphs">(origin)</tspan></text>
<text font-size="25" fill="#111"><tspan x="1366.62" y="109.05" textLength="49.71" lengthAdjust="spacingAndGlyphs">BEM</tspan> <tspan x="1421.02" y="109.05" textLength="66.71" lengthAdjust="spacingAndGlyphs">(mod)</tspan></text>
<text font-size="25" fill="#111"><tspan x="1366.62" y="144.35" textLength="46.25" lengthAdjust="spacingAndGlyphs">CFD</tspan> <tspan x="1418.39" y="144.35" textLength="80.66" lengthAdjust="spacingAndGlyphs">(origin)</tspan></text>
<text font-size="25" fill="#111"><tspan x="1366.62" y="179.65" textLength="46.25" lengthAdjust="spacingAndGlyphs">CFD</tspan> <tspan x="1418.42" y="179.65" textLength="66.50" lengthAdjust="spacingAndGlyphs">(mod)</tspan></text>
<text font-size="25" fill="#111"><tspan x="1366.62" y="215.45" textLength="46.25" lengthAdjust="spacingAndGlyphs">CFD</tspan> <tspan x="1418.19" y="215.45" textLength="88.20" lengthAdjust="spacingAndGlyphs">(origin),</tspan>   <tspan x="1527.72" y="215.45" textLength="20.81" lengthAdjust="spacingAndGlyphs">Δ</tspan><tspan x="1549.74" y="215.45" textLength="98.43" lengthAdjust="spacingAndGlyphs">BEM-adj.</tspan></text>
</svg>
</body>
</html>
